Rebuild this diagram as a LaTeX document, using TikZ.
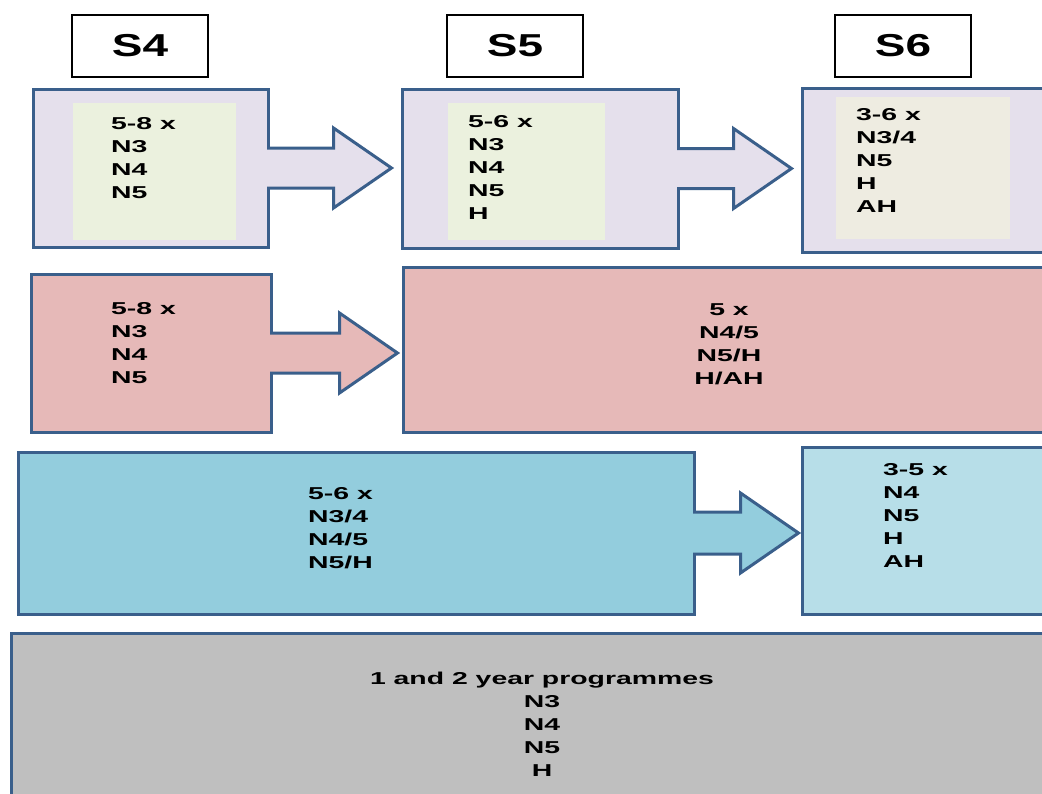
\documentclass[tikz,border=0pt]{standalone}
\usepackage{fontspec}
\setmainfont{Liberation Sans}
\newfontfamily\cellfont[FakeStretch=1.65]{Liberation Sans}
\newfontfamily\yearfont[FakeStretch=1.45]{Liberation Sans}
\usepackage{tikz}
\usetikzlibrary{calc}
\definecolor{edge}{HTML}{3A5F8B}
\definecolor{lavender}{HTML}{E5E0EC}
\definecolor{sage}{HTML}{EBF1DE}
\definecolor{parchment}{HTML}{EEECE1}
\definecolor{rose}{HTML}{E6B9B8}
\definecolor{teal}{HTML}{93CDDD}
\definecolor{paleteal}{HTML}{B7DEE8}
\definecolor{ash}{HTML}{BFBFBF}

\begin{document}
\begin{tikzpicture}[
  x=1pt, y=-1pt,
  year/.style={
    draw=black,
    line width=2.5pt,
    fill=white,
    inner sep=0pt,
    minimum width=136pt,
    minimum height=62pt,
    font={\yearfont\bfseries\fontsize{31.7pt}{36pt}\selectfont}
  },
  panel/.style={
    draw=edge,
    line width=3pt,
    inner sep=0pt
  },
  inset/.style={inner sep=0pt},
  entry/.style={
    inner sep=0pt,
    anchor=north west,
    align=left,
    font={\cellfont\bfseries\fontsize{17.2pt}{23pt}\selectfont}
  },
  link/.style={draw=edge, line width=3pt, line join=miter}
]
  \useasboundingbox (0,0) rectangle (1042,793);
  \clip (0,0) rectangle (1042,793);

  % year headings
  \node[year] (h4) at (140,46) {S4};
  \node[year] (h5) at (515,46) {S5};
  \node[year] (h6) at (903,46) {S6};

  % first row
  \node[panel, fill=lavender, minimum width=235pt, minimum height=158pt] (s4a) at (150.5,168) {};
  \node[inset, fill=sage, minimum width=163pt, minimum height=137pt] (in4a) at (154.5,171.5) {};
  \node[panel, fill=lavender, minimum width=276pt, minimum height=159pt] (s5a) at (540,168.5) {};
  \node[inset, fill=sage, minimum width=157pt, minimum height=137pt] (in5a) at (526.5,171.5) {};
  \node[panel, fill=lavender, minimum width=248pt, minimum height=164pt] (s6a) at (926,170) {};
  \node[inset, fill=parchment, minimum width=174pt, minimum height=142pt] (in6a) at (923,168) {};

  \node[entry] (t4a) at (111,117.7) {5-8 x\\N3\\N4\\N5};
  \node[entry] (t5a) at (468,115) {5-6 x\\N3\\N4\\N5\\H};
  \node[entry] (t6a) at (856,108) {3-6 x\\N3/4\\N5\\H\\AH};

  \coordinate (tip1) at ([xshift=-9pt]s5a.west |- s4a.east);
  \filldraw[link, fill=lavender] ([shift={(-2.5pt,20pt)}]s4a.east) -- ([shift={(-58pt,20pt)}]tip1)
    -- ([shift={(-58pt,40pt)}]tip1) -- (tip1) -- ([shift={(-58pt,-40pt)}]tip1)
    -- ([shift={(-58pt,-20pt)}]tip1) -- ([shift={(-2.5pt,-20pt)}]s4a.east);
  \coordinate (tip2) at ([xshift=-9pt]s6a.west |- s5a.east);
  \filldraw[link, fill=lavender] ([shift={(-2.5pt,20pt)}]s5a.east) -- ([shift={(-58pt,20pt)}]tip2)
    -- ([shift={(-58pt,40pt)}]tip2) -- (tip2) -- ([shift={(-58pt,-40pt)}]tip2)
    -- ([shift={(-58pt,-20pt)}]tip2) -- ([shift={(-2.5pt,-20pt)}]s5a.east);

  % second row
  \node[panel, fill=rose, minimum width=240pt, minimum height=158pt] (s4b) at (151,353) {};
  \node[panel, fill=rose, minimum width=647pt, minimum height=165pt] (s5b) at (726.5,349.5) {};
  \node[entry] (t4b) at (111,302) {5-8 x\\N3\\N4\\N5};
  \node[entry, anchor=north, align=center] (t5b) at (729,303) {5 x\\N4/5\\N5/H\\H/AH};

  \coordinate (tip3) at ([xshift=-4pt]s5b.west |- s4b.east);
  \filldraw[link, fill=rose] ([shift={(-2.5pt,20pt)}]s4b.east) -- ([shift={(-58pt,20pt)}]tip3)
    -- ([shift={(-58pt,40pt)}]tip3) -- (tip3) -- ([shift={(-58pt,-40pt)}]tip3)
    -- ([shift={(-58pt,-20pt)}]tip3) -- ([shift={(-2.5pt,-20pt)}]s4b.east);

  % third row
  \node[panel, fill=teal, minimum width=676pt, minimum height=162pt] (s4c) at (356,533) {};
  \node[panel, fill=paleteal, minimum width=248pt, minimum height=167pt] (s6c) at (926,530.5) {};
  \node[entry] (t4c) at (308,487) {5-6 x\\N3/4\\N4/5\\N5/H};
  \node[entry] (t6c) at (883,463) {3-5 x\\N4\\N5\\H\\AH};

  \coordinate (tip4) at ([xshift=-2pt]s6c.west |- s4c.east);
  \filldraw[link, fill=teal] ([shift={(-2.5pt,21pt)}]s4c.east) -- ([shift={(-58pt,21pt)}]tip4)
    -- ([shift={(-58pt,40pt)}]tip4) -- (tip4) -- ([shift={(-58pt,-40pt)}]tip4)
    -- ([shift={(-58pt,-21pt)}]tip4) -- ([shift={(-2.5pt,-21pt)}]s4c.east);

  % bottom row
  \node[panel, fill=ash, minimum width=1039pt, minimum height=167pt] (span) at (530.5,716.5) {};
  \node[entry, anchor=north, align=center] (tspan) at (542,671.7) {1 and 2 year programmes\\N3\\N4\\N5\\H};
\end{tikzpicture}
\end{document}
